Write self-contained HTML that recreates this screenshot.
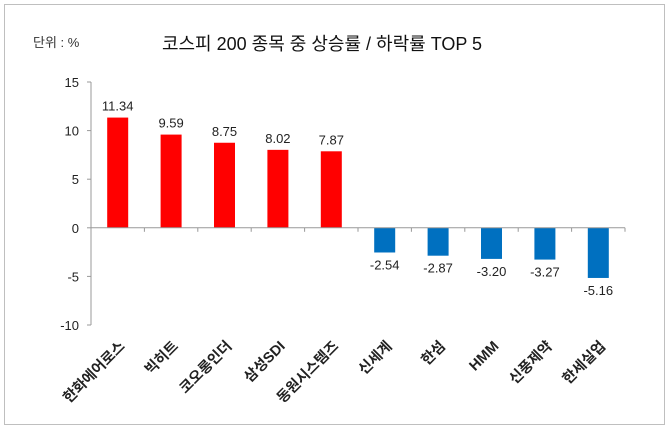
<!DOCTYPE html>
<html><head><meta charset="utf-8"><style>
body{margin:0;background:#fff;}
svg{display:block;font-family:"Liberation Sans","Noto Sans CJK KR",sans-serif;}
</style></head><body>
<svg width="670" height="431">
<rect x="4.5" y="4.5" width="660" height="420" fill="#fff" stroke="#bfbfbf"/>
<text x="33" y="47" font-size="13" fill="#333">단위 : %</text>
<text x="322" y="50" font-size="18" text-anchor="middle" fill="#111">코스피 200 종목 중  상승률 / 하락률 TOP 5</text>
<g id="plot"></g>
</svg>
<script>
const categories=["한화에어로스","빅히트","코오롱인더","삼성SDI","동원시스템즈","신세계","한섬","HMM","신풍제약","한세실업"];
const values=[11.34,9.59,8.75,8.02,7.87,-2.54,-2.87,-3.20,-3.27,-5.16];
const valueLabels=["11.34","9.59","8.75","8.02","7.87","-2.54","-2.87","-3.20","-3.27","-5.16"];
const yTicks=[15,10,5,0,-5,-10];
const NS="http://www.w3.org/2000/svg";
const g=document.getElementById('plot');
const x0=91,x1=625,yTop=82,yBot=325,vMax=15,vMin=-10;
const y=v=>yTop+(vMax-v)*(yBot-yTop)/(vMax-vMin);
const band=(x1-x0)/categories.length;
const xc=i=>x0+band*(i+0.5);
function mk(t,a){const e=document.createElementNS(NS,t);for(const k in a)e.setAttribute(k,a[k]);g.appendChild(e);return e;}
let ax=mk('line',{x1:x0,y1:yTop,x2:x0,y2:yBot,stroke:'#999'});


yTicks.forEach(t=>{
 const l=mk('line',{x1:x0-4,y1:y(t),x2:x0,y2:y(t),stroke:'#999'});
 
 
 const tx=mk('text',{x:x0-12,y:y(t)+5,'font-size':13,'text-anchor':'end',fill:'#222'});
 tx.textContent=t;
 
 
});
values.forEach((v,i)=>{
 const bw=21,top=Math.min(y(v),y(0)),h=Math.abs(y(v)-y(0));
 const r=mk('rect',{x:xc(i)-bw/2,y:top,width:bw,height:h,fill:v>=0?'#ff0000':'#0070c0'});
 
 
 const ly=v>=0?y(v)-7:y(v)+17;
 const t=mk('text',{x:xc(i),y:ly,'font-size':13,'text-anchor':'middle',fill:'#222'});
 t.textContent=valueLabels[i];
 
 
 const c=mk('text',{x:0,y:0,'font-size':14.5,'font-weight':'bold','text-anchor':'end',fill:'#222',transform:`translate(${xc(i)+8},${y(-10)+22}) rotate(-45)`});
 c.textContent=categories[i];
 
 
});
for(let i=0;i<=categories.length;i++){
 const l=mk('line',{x1:x0+band*i,y1:y(0),x2:x0+band*i,y2:y(0)+4,stroke:'#999'});
 
 
}
const zl=mk('line',{x1:x0,y1:y(0),x2:x1,y2:y(0),stroke:'#999'});


</script>
</body></html>
